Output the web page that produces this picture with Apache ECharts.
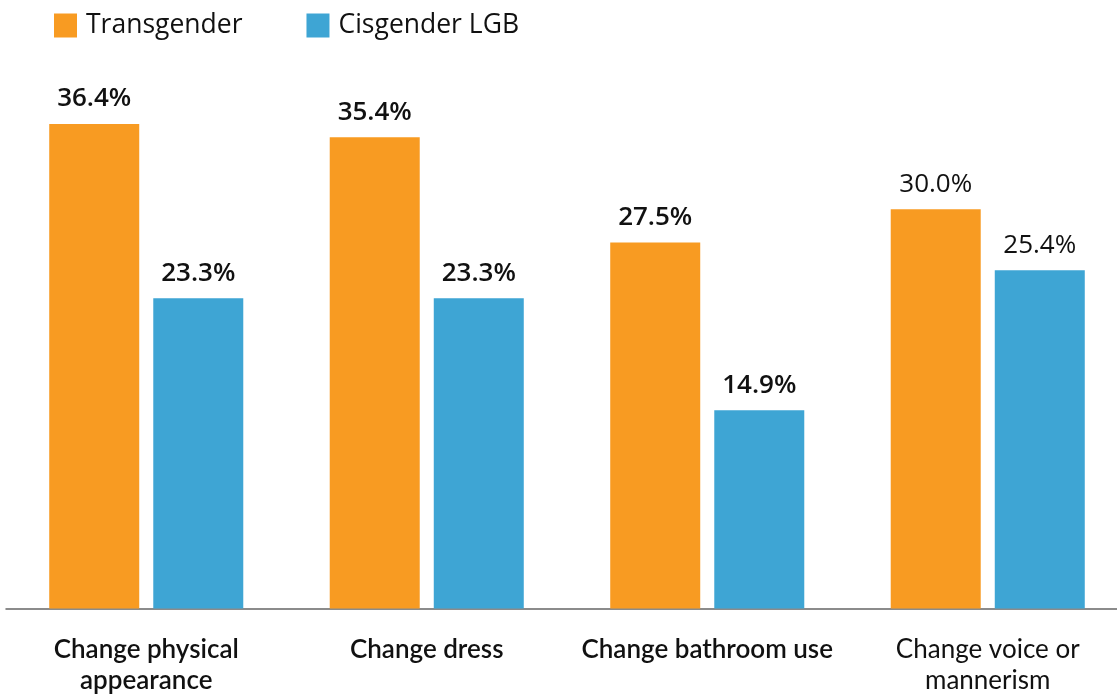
<!DOCTYPE html>
<html>
<head>
<meta charset="utf-8">
<script src="https://cdn.jsdelivr.net/npm/echarts@6/dist/echarts.min.js"></script>
<style>
  html, body { margin: 0; padding: 0; background: #ffffff; overflow: hidden; }
  #chart { width: 1128px; height: 694px; }
</style>
</head>
<body>
<div id="chart"></div>
<script>
const categories = [
  "Change physical\nappearance",
  "Change dress",
  "Change bathroom use",
  "Change voice or\nmannerism"
];
const transgender = [36.4, 35.4, 27.5, 30.0];
const cisgenderLGB = [23.3, 23.3, 14.9, 25.4];
const seriesNames = ["Transgender", "Cisgender LGB"];

const ORANGE = "#F89B22";
const BLUE = "#3EA5D4";
const BOLD_UNTIL = 3; // first three categories use bold labels

function toData(arr) {
  return arr.map(function (v, i) {
    return {
      value: v,
      label: { fontWeight: i < BOLD_UNTIL ? 600 : "normal" }
    };
  });
}

const chart = echarts.init(document.getElementById("chart"));
chart.setOption({
  animation: false,
  backgroundColor: "#ffffff",
  legend: {
    left: 49,
    top: 7,
    itemWidth: 23,
    itemHeight: 24,
    itemGap: 64,
    icon: "rect",
    textStyle: {
      fontFamily: "Open Sans",
      fontSize: 26.5,
      color: "#111111",
      padding: [0, 0, 0, 4]
    },
    data: seriesNames
  },
  grid: {
    left: 6,
    right: 0,
    top: 76,
    bottom: 85,
    containLabel: false
  },
  xAxis: {
    type: "category",
    data: categories,
    axisLine: { show: true, lineStyle: { color: "#666666", width: 1.5 } },
    axisTick: { show: false },
    axisLabel: {
      margin: 26,
      interval: 0,
      formatter: function (val, idx) {
        const key = idx < BOLD_UNTIL ? "b" : "n";
        return val.split("\n").map(function (s) { return "{" + key + "|" + s + "}"; }).join("\n");
      },
      rich: {
        b: { fontFamily: "Lato", fontSize: 26, fontWeight: 600, color: "#111111", lineHeight: 31 },
        n: { fontFamily: "Lato", fontSize: 26, fontWeight: "normal", color: "#111111", lineHeight: 31 }
      }
    }
  },
  yAxis: {
    type: "value",
    min: 0,
    max: 40,
    show: false,
    splitLine: { show: false }
  },
  series: [
    {
      name: seriesNames[0],
      type: "bar",
      data: toData(transgender),
      barWidth: 90,
      barGap: "15.6%",
      itemStyle: { color: ORANGE },
      label: {
        show: true,
        position: "top",
        distance: 12,
        fontFamily: "Open Sans",
        fontSize: 26,
        color: "#111111",
        formatter: function (p) { return p.value.toFixed(1) + "%"; }
      }
    },
    {
      name: seriesNames[1],
      type: "bar",
      data: toData(cisgenderLGB),
      barWidth: 90,
      barGap: "15.6%",
      itemStyle: { color: BLUE },
      label: {
        show: true,
        position: "top",
        distance: 12,
        fontFamily: "Open Sans",
        fontSize: 26,
        color: "#111111",
        formatter: function (p) { return p.value.toFixed(1) + "%"; }
      }
    }
  ]
});
</script>
</body>
</html>
